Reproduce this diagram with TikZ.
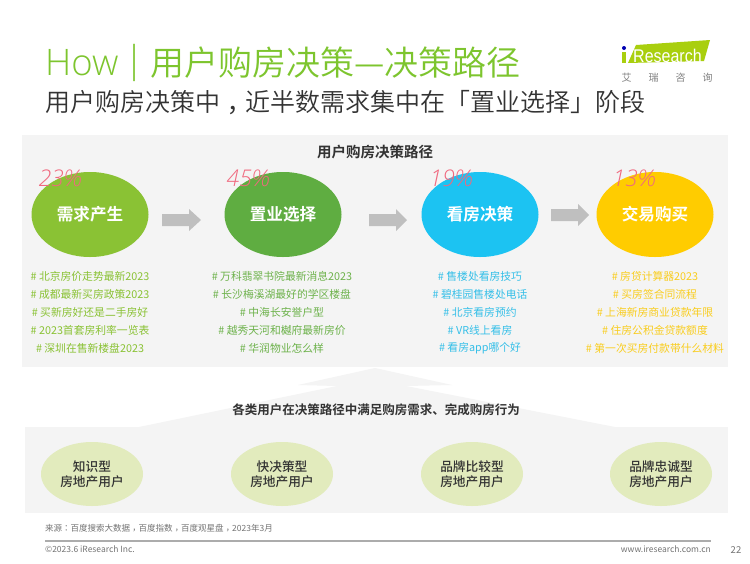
\documentclass[tikz,border=0pt]{standalone}
\usepackage{fontspec}
\usepackage{xcolor}
\setmainfont{Noto Sans CJK SC}
\newfontfamily\lightcjk{Noto Sans CJK SC DemiLight}
\newfontfamily\boldcjk{Noto Sans CJK SC Bold}
\newfontfamily\medcjk{Noto Sans CJK SC Medium}
\newfontfamily\tccjk{Noto Sans CJK TC}
\newfontfamily\lightlat{Open Sans Light}
\newfontfamily\pctfont{Open Sans Light Italic}
\newfontfamily\logofont{Liberation Sans}
\newcommand{\lowcomma}{\raisebox{-0.3em}{\tccjk ，}}
\newcommand{\midpunct}[1]{{\tccjk #1}}
\definecolor{tgreen}{HTML}{7DC52E}
\definecolor{panelgray}{HTML}{F4F4F4}
\definecolor{arrgray}{HTML}{BFBFBF}
\definecolor{cA}{HTML}{8AC234}
\definecolor{cB}{HTML}{5FAD41}
\definecolor{cC}{HTML}{1CC3F2}
\definecolor{cD}{HTML}{FFCC00}
\definecolor{tA}{HTML}{8AC234}
\definecolor{tB}{HTML}{6DB24B}
\definecolor{tC}{HTML}{35BFE8}
\definecolor{tD}{HTML}{F9CD1E}
\definecolor{pct}{HTML}{F0697F}
\definecolor{ucirc}{HTML}{E2EBBD}
\definecolor{logogreen}{HTML}{A9CF0E}
\definecolor{darktxt}{HTML}{333333}
\tikzset{
  x=1pt,y=-1pt,
  stage/.style={ellipse,minimum width=117pt,minimum height=85pt,inner sep=0pt,text=white,font=\boldcjk\fontsize{16.6}{17}\selectfont},
  usernode/.style={ellipse,fill=ucirc,minimum width=102pt,minimum height=64pt,inner sep=0pt,align=center,text=darktxt,font=\medcjk\fontsize{12.7}{15}\selectfont},
  kw/.style={anchor=center,font=\fontsize{10.8}{11}\selectfont},
  pctlabel/.style={text=pct,font=\pctfont\fontsize{23}{23}\selectfont,anchor=center},
  flowarrow/.style={fill=arrgray,draw=none},
  small/.style={text=gray!90!black,font=\fontsize{8.5}{9}\selectfont}
}
\usetikzlibrary{shapes.geometric}
\begin{document}
\begin{tikzpicture}
\useasboundingbox (0,0) rectangle (750,563);
\fill[white] (0,0) rectangle (750,563);
% panels
\fill[panelgray] (22,135) rectangle (728,367);
\fill[panelgray] (25,427) rectangle (728,513);
\fill[panelgray] (375,368) -- (452,385) -- (406,386) -- (615,427) -- (139,427) -- (337,386) -- (298,385) -- cycle;
% title
\node[anchor=west,inner sep=0pt,text=tgreen] (title) at (45,63) {\lightlat\fontsize{36.5}{37}\selectfont How};
\node[anchor=west,inner sep=0pt,text=tgreen] (titlebar) at (124,63) {\lightlat\fontsize{37}{37}\selectfont |};
\node[anchor=west,inner sep=0pt,text=tgreen] (titlecn) at (150,63) {\lightcjk\fontsize{34}{34}\selectfont 用户购房决策—决策路径};
\node[anchor=west,inner sep=0pt,text=darktxt] (sub) at (45,105) {\lightcjk\fontsize{25}{25}\selectfont 用户购房决策中\lowcomma 近半数需求集中在「置业选择」阶段};
% logo
\fill[logogreen] (636,45) -- (710,40) -- (704,61) -- (628,63) -- cycle;
\fill[logogreen] (622,52) rectangle (626,63);
\fill[blue!70!black] (624,48) circle (2pt);
\node[anchor=west,inner sep=0pt,text=white,yscale=1.15] (logo) at (633,55.5) {\logofont\fontsize{16}{16}\selectfont Research};
\node[anchor=center,inner sep=0pt,text=gray,font=\fontsize{10}{10}\selectfont] (logocn) at (667,78) {艾\hspace{17pt}瑞\hspace{17pt}咨\hspace{17pt}询};
% heading
\node[font=\boldcjk\fontsize{14.5}{15}\selectfont,text=darktxt] (h1) at (375,152) {用户购房决策路径};
% stage ellipses
\node[stage,fill=cA] (s1) at (90,214.5) {需求产生};
\node[stage,fill=cB] (s2) at (283,214.5) {置业选择};
\node[stage,fill=cC] (s3) at (480,214.5) {看房决策};
\node[stage,fill=cD] (s4) at (655,214.5) {交易购买};
% percents
\node[pctlabel] (p1) at (60,178) {23\%};
\node[pctlabel] (p2) at (248,178) {45\%};
\node[pctlabel] (p3) at (451,178) {19\%};
\node[pctlabel] (p4) at (634,178) {13\%};
% arrows
\fill[flowarrow] (162,214) -- (189,214) -- (189,209) -- (201,220) -- (189,231) -- (189,226) -- (162,226) -- cycle;
\fill[flowarrow] (369,214) -- (396,214) -- (396,209) -- (407,220) -- (396,231) -- (396,226) -- (369,226) -- cycle;
\fill[flowarrow] (551,209) -- (578,209) -- (578,204) -- (589,215) -- (578,226) -- (578,221) -- (551,221) -- cycle;
% keywords
\begin{scope}[every node/.style={kw,text=tA}]
\node (a1) at (90,276) {\# 北京房价走势最新2023};
\node (a2) at (90,294) {\# 成都最新买房政策2023};
\node (a3) at (90,312) {\# 买新房好还是二手房好};
\node (a4) at (90,330) {\# 2023首套房利率一览表};
\node (a5) at (90,348) {\# 深圳在售新楼盘2023};
\end{scope}
\begin{scope}[every node/.style={kw,text=tB}]
\node (b1) at (282,276) {\# 万科翡翠书院最新消息2023};
\node (b2) at (282,294) {\# 长沙梅溪湖最好的学区楼盘};
\node (b3) at (282,312) {\# 中海长安誉户型};
\node (b4) at (282,330) {\# 越秀天河和樾府最新房价};
\node (b5) at (282,348) {\# 华润物业怎么样};
\end{scope}
\begin{scope}[every node/.style={kw,text=tC}]
\node (c1) at (480,276) {\# 售楼处看房技巧};
\node (c2) at (480,294) {\# 碧桂园售楼处电话};
\node (c3) at (480,312) {\# 北京看房预约};
\node (c4) at (480,330) {\# VR线上看房};
\node (c5) at (480,348) {\# 看房app哪个好};
\end{scope}
\begin{scope}[every node/.style={kw,text=tD}]
\node (d1) at (655,276) {\# 房贷计算器2023};
\node (d2) at (655,294) {\# 买房签合同流程};
\node (d3) at (655,312) {\# 上海新房商业贷款年限};
\node (d4) at (655,330) {\# 住房公积金贷款额度};
\node (d5) at (655,348) {\# 第一次买房付款带什么材料};
\end{scope}
% lower
\node[font=\boldcjk\fontsize{12.5}{13}\selectfont,text=darktxt] (h2) at (376,410) {各类用户在决策路径中满足购房需求、完成购房行为};
\node[usernode] (u1) at (92,474) {知识型\\房地产用户};
\node[usernode] (u2) at (282,474) {快决策型\\房地产用户};
\node[usernode] (u3) at (472,474) {品牌比较型\\房地产用户};
\node[usernode] (u4) at (661,474) {品牌忠诚型\\房地产用户};
% footer
\node[small,anchor=west,inner sep=0pt] (src) at (45,529) {来源\midpunct{：}百度搜索大数据\lowcomma 百度指数\lowcomma 百度观星盘\lowcomma 2023年3月};
\coordinate (fl) at (45,541);
\coordinate (fr) at (711,541);
\draw[line width=1.2pt,color=gray!65] (fl) -- (fr);
\node[small,anchor=west,inner sep=0pt] (copy) at (45,549) {©2023.6 iResearch Inc.};
\node[small,anchor=east,inner sep=0pt] (web) at (711,549) {www.iresearch.com.cn};
\node[small,anchor=center,inner sep=0pt,font=\fontsize{9.5}{10}\selectfont] (pg) at (736,550) {22};
\end{tikzpicture}
\end{document}
